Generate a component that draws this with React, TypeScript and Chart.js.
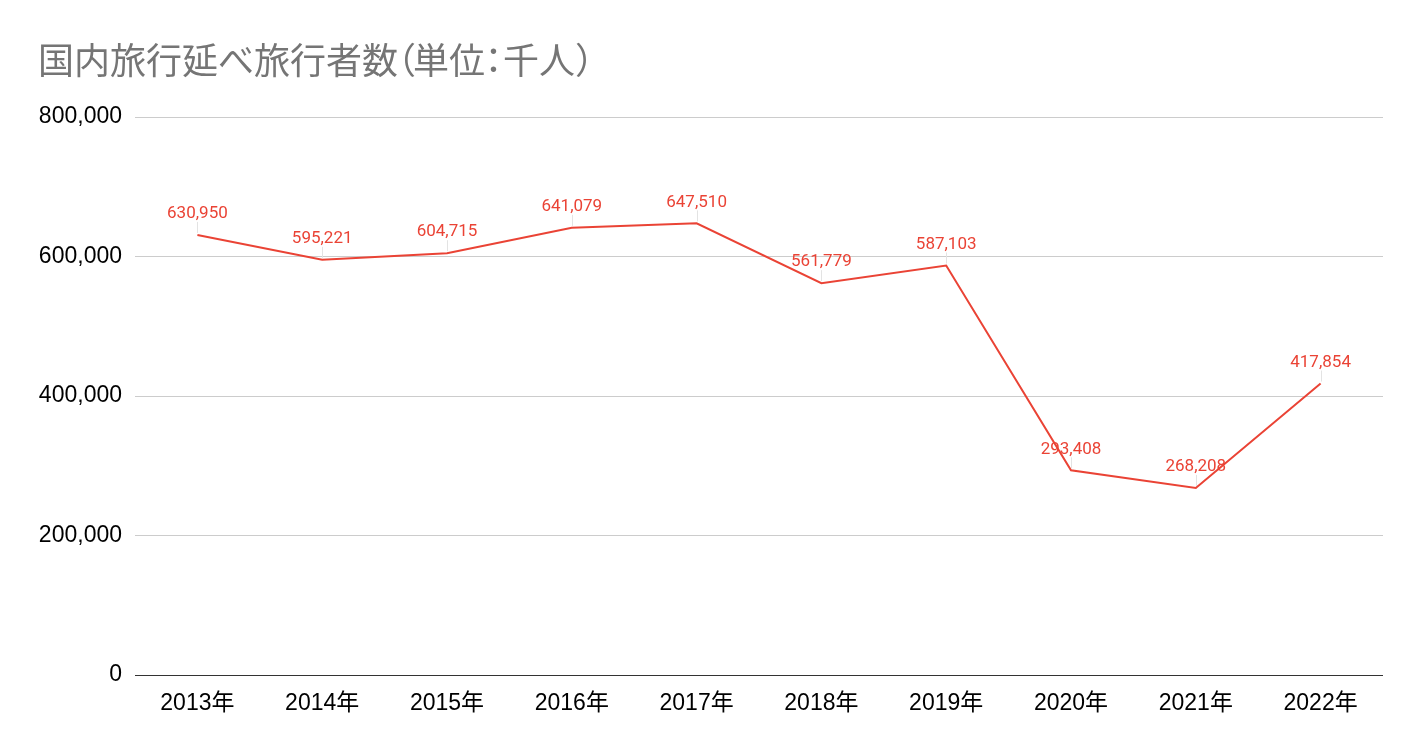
import React, { useEffect, useRef } from "react";
import { Chart, registerables } from "chart.js";

Chart.register(...registerables);

const TITLE_MAIN = "国内旅行延べ旅行者数";
const TITLE_UNIT = ["（", "単位", "：", "千人", "）"];
const categories = ["2013年", "2014年", "2015年", "2016年", "2017年", "2018年", "2019年", "2020年", "2021年", "2022年"];
const travelers = [630950, 595221, 604715, 641079, 647510, 561779, 587103, 293408, 268208, 417854];
const yTicks = [0, 200000, 400000, 600000, 800000];

const RED = "#ea4335";
const fmt = (v: number) => v.toLocaleString("en-US");

const labelPlugin = {
  id: "pointLabels",
  afterDatasetsDraw(chart: any) {
    const ctx = chart.ctx;
    const meta = chart.getDatasetMeta(0);
    ctx.save();
    meta.data.forEach((pt: any, i: number) => {
      const x = pt.x;
      const y = pt.y;
      ctx.strokeStyle = "#e3e3e3";
      ctx.lineWidth = 1;
      ctx.beginPath();
      ctx.moveTo(Math.round(x) + 0.5, y - 2);
      ctx.lineTo(Math.round(x) + 0.5, y - 13);
      ctx.stroke();
      ctx.fillStyle = RED;
      ctx.font = "17px Roboto";
      ctx.textAlign = "center";
      ctx.textBaseline = "middle";
      ctx.fillText(fmt(travelers[i]), x, y - 21);
    });
    ctx.restore();
  },
};

const titlePlugin = {
  id: "customTitle",
  afterDraw(chart: any) {
    const ctx = chart.ctx;
    const em = 36;
    ctx.save();
    ctx.fillStyle = "#757575";
    ctx.font = `${em}px 'Noto Sans CJK JP'`;
    ctx.textAlign = "left";
    ctx.textBaseline = "middle";
    const y = 60;
    let x = 38;
    ctx.fillText(TITLE_MAIN, x, y);
    x += ctx.measureText(TITLE_MAIN).width;
    // proportional-style placement of full-width punctuation
    ctx.fillText(TITLE_UNIT[0], x - em * 0.5, y);
    x += em * 0.42;
    ctx.fillText(TITLE_UNIT[1], x, y);
    x += ctx.measureText(TITLE_UNIT[1]).width;
    ctx.fillText(TITLE_UNIT[2], x - em * 0.27, y);
    x += em * 0.5;
    ctx.fillText(TITLE_UNIT[3], x, y);
    x += ctx.measureText(TITLE_UNIT[3]).width;
    ctx.fillText(TITLE_UNIT[4], x, y);
    ctx.restore();
  },
};

export default function App() {
  const ref = useRef<HTMLCanvasElement>(null);
  useEffect(() => {
    document.body.style.margin = "0";
    document.body.style.overflow = "hidden";
    const chart = new Chart(ref.current!, {
      type: "line",
      data: {
        labels: categories,
        datasets: [
          {
            data: travelers,
            borderColor: RED,
            backgroundColor: RED,
            borderWidth: 2,
            pointRadius: 0,
            tension: 0,
          },
        ],
      },
      options: {
        animation: false,
        responsive: true,
        maintainAspectRatio: false,
        layout: { padding: { top: 117, left: 0, right: 38, bottom: 0 } },
        plugins: { legend: { display: false }, tooltip: { enabled: false }, title: { display: false } },
        scales: {
          x: {
            offset: true,
            grid: { display: false },
            border: { display: false },
            ticks: {
              color: "#000",
              font: { family: "'Liberation Sans', 'Noto Sans CJK JP'", size: 23 },
              padding: 7,
              maxRotation: 0,
            },
            afterFit(scale: any) {
              scale.height = 78;
            },
          },
          y: {
            min: 0,
            max: 800000,
            afterBuildTicks(scale: any) {
              scale.ticks = yTicks.map((v) => ({ value: v }));
            },
            grid: {
              drawTicks: false,
              color: (c: any) => (c.tick && c.tick.value === 0 ? "#333333" : "#cccccc"),
              lineWidth: 1,
            },
            border: { display: false },
            ticks: {
              color: "#000",
              font: { family: "'Liberation Sans'", size: 23 },
              padding: 13,
              callback: (v: any) => fmt(Number(v)),
            },
            afterFit(scale: any) {
              scale.width = 135;
            },
          },
        },
      },
      plugins: [labelPlugin, titlePlugin],
    });
    return () => chart.destroy();
  }, []);
  return (
    <div style={{ width: 1421, height: 753, position: "relative", background: "#fff" }}>
      <canvas ref={ref} />
    </div>
  );
}
